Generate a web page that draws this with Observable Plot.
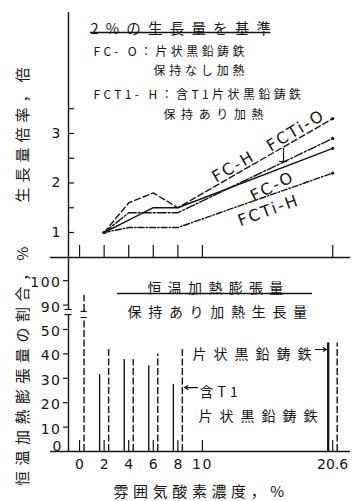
<!DOCTYPE html>
<html><head><meta charset="utf-8">
<script src="https://cdn.jsdelivr.net/npm/d3@7"></script>
<script src="https://cdn.jsdelivr.net/npm/@observablehq/plot@0.6"></script>
<style>
body{margin:0;background:#fff;}
#wrap{position:relative;width:353px;height:501px;overflow:hidden;background:#fff;}
#wrap svg{position:absolute;left:0;}
</style></head><body><div id="wrap"></div>
<script>
// ---------- data ----------
const oxygen = [2, 4, 6, 8, 20.6];
const fcH   = [1.0, 1.6, 1.8, 1.5, 3.3];
const fctiO = [1.0, 1.4, 1.4, 1.4, 2.9];
const fcO   = [1.0, 1.25, 1.5, 1.5, 2.7];
const fctiH = [1.0, 1.1, 1.1, 1.1, 2.2];
const seriesNames = ["FC-H", "FCTi-O", "FC-O", "FCTi-H"];

const o2Levels  = [0, 2, 4, 6, 8, 20.6];
const fcRatio   = [null, 31.5, 37.7, 35, 27.5, 44.5];   // 片状黒鉛鋳鉄 (solid)
const fctiRatio = [94, 42, 37.7, 40, 42.5, 44.5];       // 含Ti片状黒鉛鋳鉄 (dashed)

const xTicks = [0, 2, 4, 6, 8, 10, 20.6];
const xTickLabels = ["0", "2", "4", "6", "8", "10", "20.6"];
const yTopTicks = [1, 2, 3];
const yTopMinor = [1, 1.5, 2, 2.5, 3, 3.5];
const yBotTicks = [0, 10, 20, 30, 40, 50, 90, 100];

// ---------- helpers / styles ----------
const INK = "#141414";
const JP = "Noto Sans CJK JP";
const NUM = "DejaVu Sans";
const X_DOMAIN = [-0.9, 22.05];
const X_LEFT_EXT = -2.37;
const brk = v => (v >= 90 ? v - 30 : v);   // broken axis 50 | 90
const dashes = {"FC-H": "6,3", "FCTi-O": "9,2,2,2", "FC-O": null, "FCTi-H": "6,2,1.5,2"};
const seriesVals = [fcH, fctiO, fcO, fctiH];
const rows = seriesNames.flatMap((s, k) => oxygen.map((x, i) => ({series: s, x, y: seriesVals[k][i]})));

const spacing = new Map([
  ["2%の生長量を基準", 7.2], ["FC- O：片状黒鉛鋳鉄", 3.4], ["保持なし加熱", 3.8],
  ["FCT1- H：含T1片状黒鉛鋳鉄", 3.4], ["保持あり加熱", 5.6],
  ["FC-H", 2], ["FCTi-O", 2], ["FC-O", 2], ["FCTi-H", 2],
  ["生長量倍率，倍", 5], ["恒温加熱膨張量の割合，%", 5.5],
  ["恒温加熱膨張量", 6.3], ["保持あり加熱生長量", 6.7], ["片状黒鉛鋳鉄", 7], ["含T1", 4],
  ["雰囲気酸素濃度，%", 4.6], ["100", 1.5], ["90", 1.5], ["50", 1.5], ["40", 1.5], ["30", 1.5], ["20", 1.5], ["10", 1.5]
]);

const wrap = document.getElementById("wrap");

// ---------- top panel ----------
const Y_TOP = [0.495, 5.444];
const topMarks = [
  Plot.ruleX([X_DOMAIN[0]], {y1: Y_TOP[0], y2: Y_TOP[1], stroke: INK, strokeWidth: 1.4}),
  Plot.ruleY([Y_TOP[0]], {x1: X_LEFT_EXT, x2: X_DOMAIN[1], stroke: INK, strokeWidth: 1.4}),
  Plot.ruleX(xTicks, {y1: Y_TOP[0], y2: Y_TOP[0] + 12 / 49.5, stroke: INK, strokeWidth: 1.2}),
  Plot.ruleY(yTopMinor, {x1: X_DOMAIN[0], x2: X_DOMAIN[0], insetLeft: 0, insetRight: -6, stroke: INK, strokeWidth: 1.2}),
  Plot.text(yTopTicks, {x: X_DOMAIN[0], y: d => d, text: d => String(d), dx: -8, textAnchor: "end", fontSize: 14, fontFamily: NUM, fill: INK}),
];
for (const s of seriesNames) {
  topMarks.push(Plot.line(rows.filter(r => r.series === s), {x: "x", y: "y", stroke: INK, strokeWidth: 1.4, strokeDasharray: dashes[s]}));
}
topMarks.push(
  Plot.dot(rows.filter(r => r.x === oxygen[oxygen.length - 1] || r.x === oxygen[0]), {x: "x", y: "y", r: 1.6, fill: INK, stroke: null}),
  Plot.text([
    {t: "FC-H", x: 12.53, y: 2.33, r: -30},
    {t: "FCTi-O", x: 17.6, y: 3.06, r: -31},
    {t: "FC-O", x: 15.7, y: 1.93, r: -27},
    {t: "FCTi-H", x: 15.38, y: 1.445, r: -20}
  ], {x: "x", y: "y", text: "t", rotate: "r", fontSize: 16, fontFamily: NUM, fill: INK}),
  // pointer from FCTi-O label
  Plot.ruleX([16.6], {y1: 2.434, y2: 2.697, stroke: INK, strokeWidth: 1.2}),
  Plot.ruleY([2.434], {x1: 16.6, x2: 16.6, insetLeft: -4, insetRight: -4, stroke: INK, strokeWidth: 1.2}),
  // title + underline
  Plot.text(["2%の生長量を基準"], {frameAnchor: "top-left", dx: 22, dy: 11, textAnchor: "start", fontSize: 14.5, fontFamily: JP, fill: INK}),
  Plot.ruleY([5.04], {x1: 0.89, x2: 15.54, stroke: INK, strokeWidth: 1.3}),
  Plot.text(["FC- O：片状黒鉛鋳鉄"], {frameAnchor: "top-left", dx: 25, dy: 35, textAnchor: "start", fontSize: 12, fontFamily: JP, fill: INK}),
  Plot.text(["保持なし加熱"], {frameAnchor: "top-left", dx: 85, dy: 54, textAnchor: "start", fontSize: 12, fontFamily: JP, fill: INK}),
  Plot.text(["FCT1- H：含T1片状黒鉛鋳鉄"], {frameAnchor: "top-left", dx: 25, dy: 78, textAnchor: "start", fontSize: 12, fontFamily: JP, fill: INK}),
  Plot.text(["保持あり加熱"], {frameAnchor: "top-left", dx: 95, dy: 98, textAnchor: "start", fontSize: 12, fontFamily: JP, fill: INK}),
  Plot.text(["生長量倍率，倍"], {frameAnchor: "top-left", dx: -51, dy: 120, rotate: -90, textAnchor: "middle", fontSize: 15, fontFamily: JP, fill: INK})
);

const topPlot = Plot.plot({
  width: 353, height: 262, marginTop: 12, marginBottom: 5, marginLeft: 68, marginRight: 3,
  x: {domain: X_DOMAIN, axis: null},
  y: {domain: Y_TOP, axis: null},
  style: {background: "transparent", overflow: "visible"},
  marks: topMarks
});
topPlot.style.top = "0px";
wrap.appendChild(topPlot);

// ---------- bottom panel ----------
const Y_BOT = [0, 79.5];
const bars = [];
o2Levels.forEach((x, i) => {
  if (fcRatio[i] != null) bars.push({x, v: fcRatio[i], kind: "FC"});
  if (fctiRatio[i] != null) bars.push({x, v: fctiRatio[i], kind: "FCTi"});
});
const segs = [];
const caps = [];
for (const b of bars) {
  const top = brk(b.v);
  if (b.v >= 90) {
    segs.push({...b, y1: 0, y2: 54.9}, {...b, y1: 57.4, y2: top});
    caps.push({x: b.x, kind: b.kind, y: 54.9}, {x: b.x, kind: b.kind, y: 57.4});
  } else segs.push({...b, y1: 0, y2: top});
}

const botMarks = [
  Plot.ruleX([X_DOMAIN[0]], {y1: 0, y2: 56.1, stroke: INK, strokeWidth: 1.4}),
  Plot.ruleX([X_DOMAIN[0]], {y1: 58.2, y2: Y_BOT[1], stroke: INK, strokeWidth: 1.4}),
  Plot.ruleY([56.1, 58.2], {x1: X_DOMAIN[0], x2: X_DOMAIN[0], insetLeft: -3.5, insetRight: -3.5, stroke: INK, strokeWidth: 1.2}),
  Plot.ruleY([0], {x1: X_LEFT_EXT, x2: X_DOMAIN[1], stroke: INK, strokeWidth: 1.5}),
  Plot.ruleY(yBotTicks.filter(d => d > 0).map(brk), {x1: X_DOMAIN[0], x2: X_DOMAIN[0], insetLeft: -5, insetRight: 0, stroke: INK, strokeWidth: 1.2}),
  Plot.text(yBotTicks.filter(d => d > 0), {x: X_DOMAIN[0], y: d => brk(d), text: d => String(d), dx: -7, dy: 2, textAnchor: "end", fontSize: 14, fontFamily: NUM, fill: INK}),
  Plot.text([0], {x: X_DOMAIN[0], y: d => d, text: d => String(d), dx: -7, dy: -5, textAnchor: "end", fontSize: 14, fontFamily: NUM, fill: INK}),
  Plot.ruleX(xTicks, {y1: 0, y2: 11 / 2.44, stroke: INK, strokeWidth: 1.2}),
  Plot.text(xTicks, {x: d => d, frameAnchor: "bottom", dy: 17, text: (d, i) => xTickLabels[i], fontSize: 14, fontFamily: NUM, fill: INK}),
  Plot.ruleX(segs.filter(s => s.kind === "FC"), {x: "x", y1: "y1", y2: "y2", dx: -4.5, stroke: INK, strokeWidth: d => (d.x > 20 ? 2.3 : 1.4)}),
  Plot.ruleX(segs.filter(s => s.kind === "FCTi"), {x: "x", y1: "y1", y2: "y2", dx: 4.5, stroke: INK, strokeWidth: 1.4, strokeDasharray: "7,2.5"}),
  Plot.ruleY(caps, {x1: "x", x2: "x", y: "y", dx: 4.5, insetLeft: -3, insetRight: -3, stroke: INK, strokeWidth: 1.2}),
  // fraction
  Plot.text(["恒温加熱膨張量"], {frameAnchor: "top-left", dx: 79, dy: 26, textAnchor: "start", fontSize: 14, fontFamily: JP, fill: INK}),
  Plot.ruleY([64.75], {x1: 3.09, x2: 18.96, stroke: INK, strokeWidth: 1.3}),
  Plot.text(["保持あり加熱生長量"], {frameAnchor: "top-left", dx: 59, dy: 50, textAnchor: "start", fontSize: 14, fontFamily: JP, fill: INK}),
  // annotations
  Plot.text(["片状黒鉛鋳鉄"], {frameAnchor: "top-left", dx: 124, dy: 92, textAnchor: "start", fontSize: 14, fontFamily: JP, fill: INK}),
  Plot.arrow([{x1: 19.2, x2: 20.1, y: 41.8}], {x1: "x1", x2: "x2", y1: "y", y2: "y", stroke: INK, strokeWidth: 1.2, headLength: 5}),
  Plot.arrow([{x1: 9.6, x2: 8.54, y: 26.2}], {x1: "x1", x2: "x2", y1: "y", y2: "y", stroke: INK, strokeWidth: 1.2, headLength: 5}),
  Plot.text(["含T1"], {frameAnchor: "top-left", dx: 131, dy: 130, textAnchor: "start", fontSize: 14, fontFamily: JP, fill: INK}),
  Plot.text(["片状黒鉛鋳鉄"], {frameAnchor: "top-left", dx: 130, dy: 154, textAnchor: "start", fontSize: 14, fontFamily: JP, fill: INK}),
  Plot.text(["雰囲気酸素濃度，%"], {frameAnchor: "top-left", dx: 45, dy: 229, textAnchor: "start", fontSize: 15, fontFamily: JP, fill: INK}),
  Plot.text(["恒温加熱膨張量の割合，%"], {frameAnchor: "top-left", dx: -51, dy: 106, rotate: -90, textAnchor: "middle", fontSize: 15, fontFamily: JP, fill: INK})
];

const botPlot = Plot.plot({
  width: 353, height: 244, marginTop: 0, marginBottom: 50, marginLeft: 68, marginRight: 3,
  x: {domain: X_DOMAIN, axis: null},
  y: {domain: Y_BOT, axis: null},
  style: {background: "transparent", overflow: "visible"},
  marks: botMarks
});
botPlot.style.top = "257px";
wrap.appendChild(botPlot);

// letter spacing for the widely set labels
for (const svg of [topPlot, botPlot]) {
  d3.select(svg).selectAll("text").each(function () {
    const s = spacing.get(this.textContent);
    if (s != null) this.style.letterSpacing = s + "px";
  });
}
</script></body></html>
